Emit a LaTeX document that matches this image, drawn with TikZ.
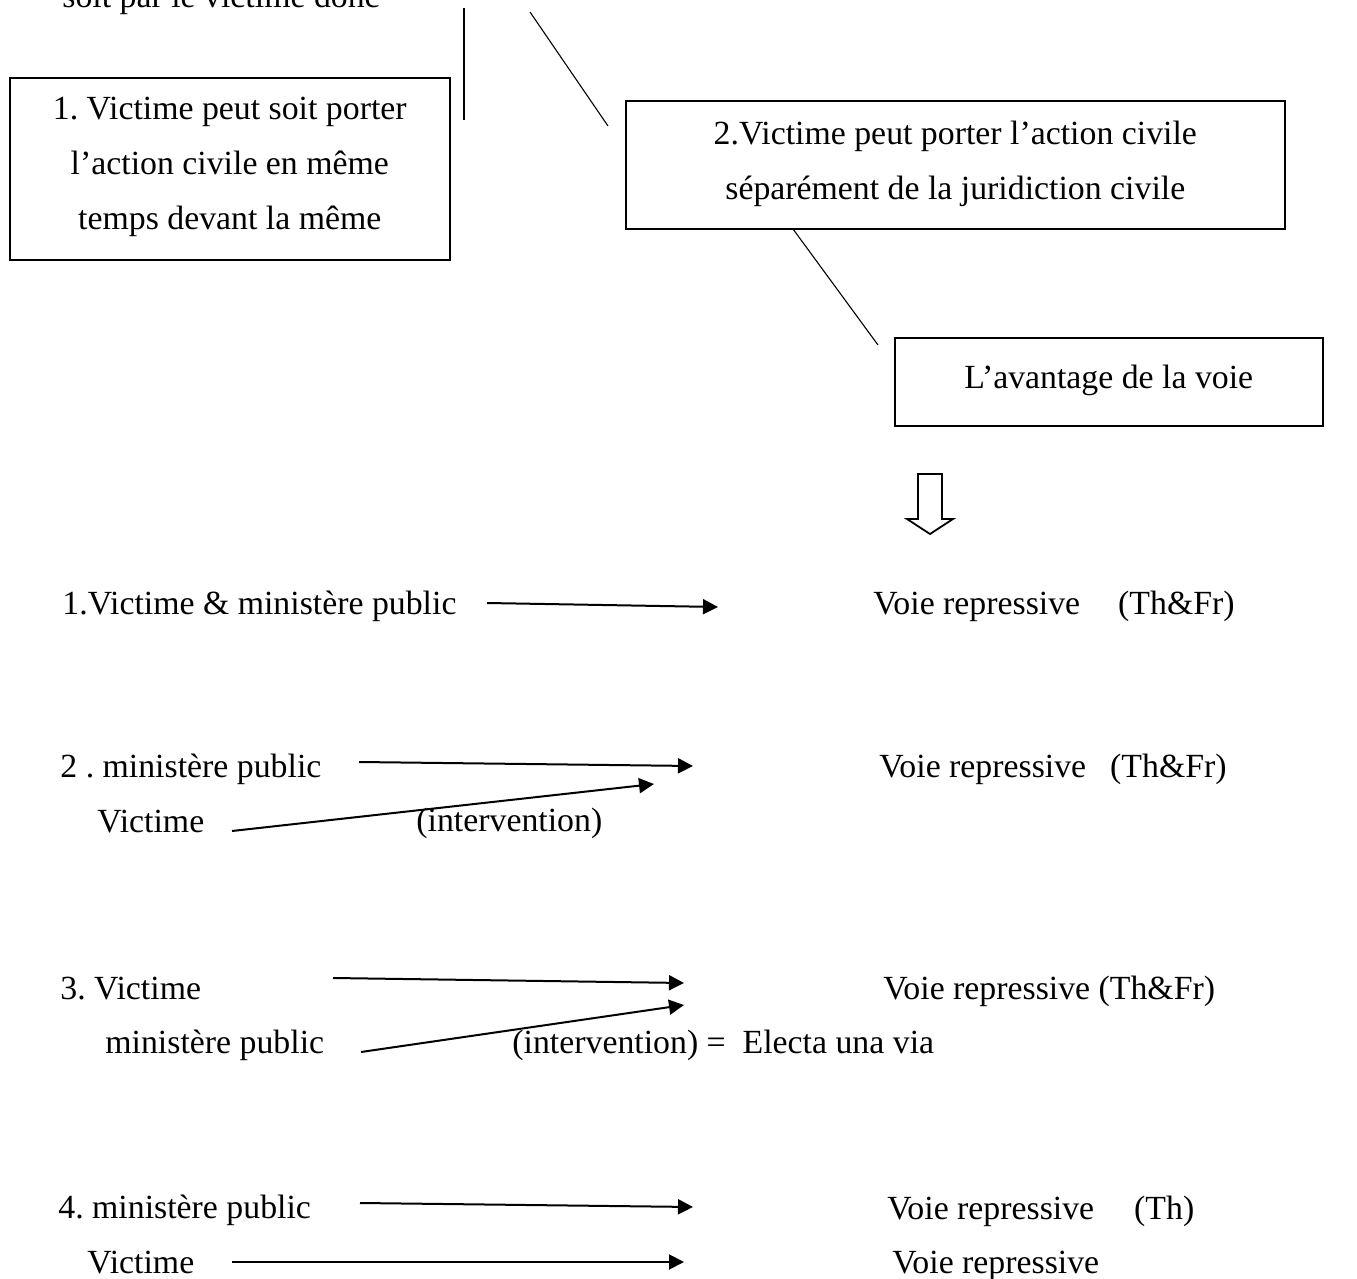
\documentclass[tikz,border=0pt]{standalone}
\usepackage{fontspec}
\setmainfont{Liberation Serif}
\usetikzlibrary{arrows.meta, positioning}
\frenchspacing

\begin{document}
\begin{tikzpicture}[
    x=0.5pt, y=-0.5pt,
    every node/.style={font=\fontsize{16.9}{27.5}\selectfont, inner sep=0pt},
    textbox/.style={draw, line width=0.8pt, align=center, anchor=north west,
                    text depth=5pt},
    lbl/.style={anchor=base west},
    link/.style={draw, line width=0.55pt},
    flow/.style={draw, line width=1pt, -{Triangle[length=7.5pt, width=7.5pt]}},
  ]
  \useasboundingbox (0,0) rectangle (1357,1279);

  % top part
  \node[lbl] (intro) at (62,8) {soit par le victime donc};
  \node[textbox, minimum width=220pt, minimum height=91pt] (opt1) at (9,77)
    {1. Victime peut soit porter\\ l’action civile en même\\ temps devant la même};
  \node[textbox, minimum width=329.5pt, minimum height=64pt] (opt2) at (625,100)
    {2.Victime peut porter l’action civile\\ séparément de la juridiction civile};
  \node[textbox, minimum width=214pt, minimum height=44pt] (adv) at (894,337)
    {L’avantage de la voie};

  \coordinate (v1) at (464,8);
  \coordinate (v2) at (464,120);
  \coordinate (d1) at (530,12);
  \coordinate (d2) at (608,126);
  \coordinate (d3) at (793,229);
  \coordinate (d4) at (878,345);
  \draw[link] (v1) -- (v2);
  \draw[link] (d1) -- (d2);
  \draw[link] (d3) -- (d4);

  % hollow arrow
  \draw[line width=0.9pt, line join=miter] (918,474) -- (942,474) -- (942,519)
    -- (953,519) -- (930,534) -- (907,519) -- (918,519) -- cycle;

  % case 1
  \node[lbl] (c1) at (62,614) {1.Victime \& ministère public};
  \node[lbl] (c1r) at (873,614) {Voie repressive\hspace{19pt}(Th\&Fr)};
  \coordinate (a1) at (487,603);
  \coordinate (b1) at (718,607);
  \draw[flow] (a1) -- (b1);

  % case 2
  \node[lbl] (c2) at (60,777) {2 . ministère public};
  \node[lbl] (c2v) at (97,832) {Victime};
  \node[lbl] (c2i) at (416,831) {(intervention)};
  \node[lbl] (c2r) at (879,777) {Voie repressive\hspace{12pt}(Th\&Fr)};
  \coordinate (a2) at (359,762);
  \coordinate (b2) at (693,766);
  \coordinate (a2v) at (232,831);
  \coordinate (b2v) at (654,784);
  \draw[flow] (a2) -- (b2);
  \draw[flow] (a2v) -- (b2v);

  % case 3
  \node[lbl] (c3) at (60,999) {3. Victime};
  \node[lbl] (c3m) at (105,1053) {ministère public};
  \node[lbl] (c3i) at (512,1053) {(intervention) =\ \ Electa una via};
  \node[lbl] (c3r) at (883,999) {Voie repressive (Th\&Fr)};
  \coordinate (a3) at (333,978);
  \coordinate (b3) at (684,983);
  \coordinate (a3m) at (361,1052);
  \coordinate (b3m) at (684,1005);
  \draw[flow] (a3) -- (b3);
  \draw[flow] (a3m) -- (b3m);

  % case 4
  \node[lbl] (c4) at (58,1218) {4. ministère public};
  \node[lbl] (c4v) at (87,1273) {Victime};
  \node[lbl] (c4r) at (887,1219) {Voie repressive\hspace{20pt}(Th)};
  \node[lbl] (c4vr) at (892,1273) {Voie repressive};
  \coordinate (a4) at (360,1203);
  \coordinate (b4) at (693,1207);
  \coordinate (a4v) at (232,1262);
  \coordinate (b4v) at (684,1262);
  \draw[flow] (a4) -- (b4);
  \draw[flow] (a4v) -- (b4v);
\end{tikzpicture}
\end{document}
